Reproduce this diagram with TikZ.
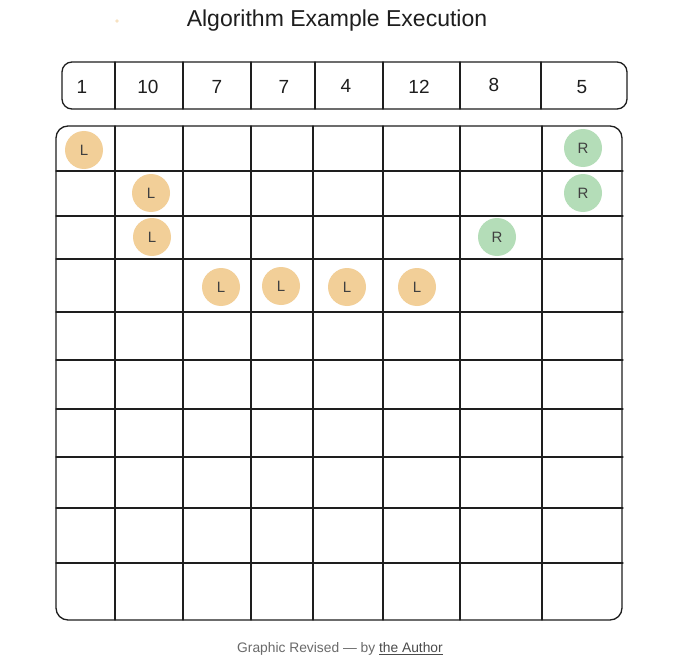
\documentclass[tikz,border=0pt]{standalone}
\usepackage{fontspec}
\setmainfont{Liberation Sans}
\definecolor{blobL}{HTML}{F2CF98}
\definecolor{blobR}{HTML}{B4DDB8}
\definecolor{ink}{HTML}{1E1E1E}
\definecolor{capgray}{HTML}{6A6A6A}
\begin{document}
\begin{tikzpicture}[x=1pt,y=-1pt,
  gridline/.style={line width=1.3pt,draw=ink,line cap=round},
  numtext/.style={font=\fontsize{19}{22}\selectfont,text=ink},
  blobtext/.style={circle,minimum size=38pt,inner sep=0pt,font=\fontsize{15}{15}\selectfont,text=ink!85},
  lmark/.style={blobtext,fill=blobL},
  rmark/.style={blobtext,fill=blobR}]
\useasboundingbox[fill=white] (0,0) rectangle (680,658);
% title
\node[font=\fontsize{23}{27}\selectfont,text=ink] (title) at (337,21) {Algorithm Example Execution};
\fill[blobL!60] (117,21) circle (1.8pt);
% top array
\draw[gridline,rounded corners=10pt] (62,62) rectangle (627,109);
\foreach \x in {115,183,251,315,383,460,541}{\draw[gridline] (\x,62) -- (\x,109);}
\node[numtext] (v1) at (82,87) {1};
\node[numtext] (v2) at (148,87) {10};
\node[numtext] (v3) at (217,87) {7};
\node[numtext] (v4) at (284,87) {7};
\node[numtext] (v5) at (346,86) {4};
\node[numtext] (v6) at (419,87) {12};
\node[numtext] (v7) at (494,85) {8};
\node[numtext] (v8) at (582,87) {5};
% grid
\draw[gridline,rounded corners=12pt] (56,126) rectangle (622,620);
\foreach \x in {115,183,251,313,383,460,542}{\draw[gridline] (\x,126) -- (\x,620);}
\foreach \y in {171,216,259,312,360,409,457,508,563}{\draw[gridline] (56,\y) -- (623,\y);}
% markers
\node[lmark] (l1) at (84,150) {L};
\node[lmark] (l2) at (151,193) {L};
\node[lmark] (l3) at (152,237) {L};
\node[lmark] (l4) at (221,287) {L};
\node[lmark] (l5) at (281,286) {L};
\node[lmark] (l6) at (347,287) {L};
\node[lmark] (l7) at (417,287) {L};
\node[rmark] (r1) at (583,148) {R};
\node[rmark] (r2) at (583,193) {R};
\node[rmark] (r3) at (497,237) {R};
% caption
\node[font=\fontsize{13.8}{16}\selectfont,text=capgray] (cap) at (340,649) {Graphic Revised — by {\color{ink!80}\underline{the Author}}};
\end{tikzpicture}
\end{document}
